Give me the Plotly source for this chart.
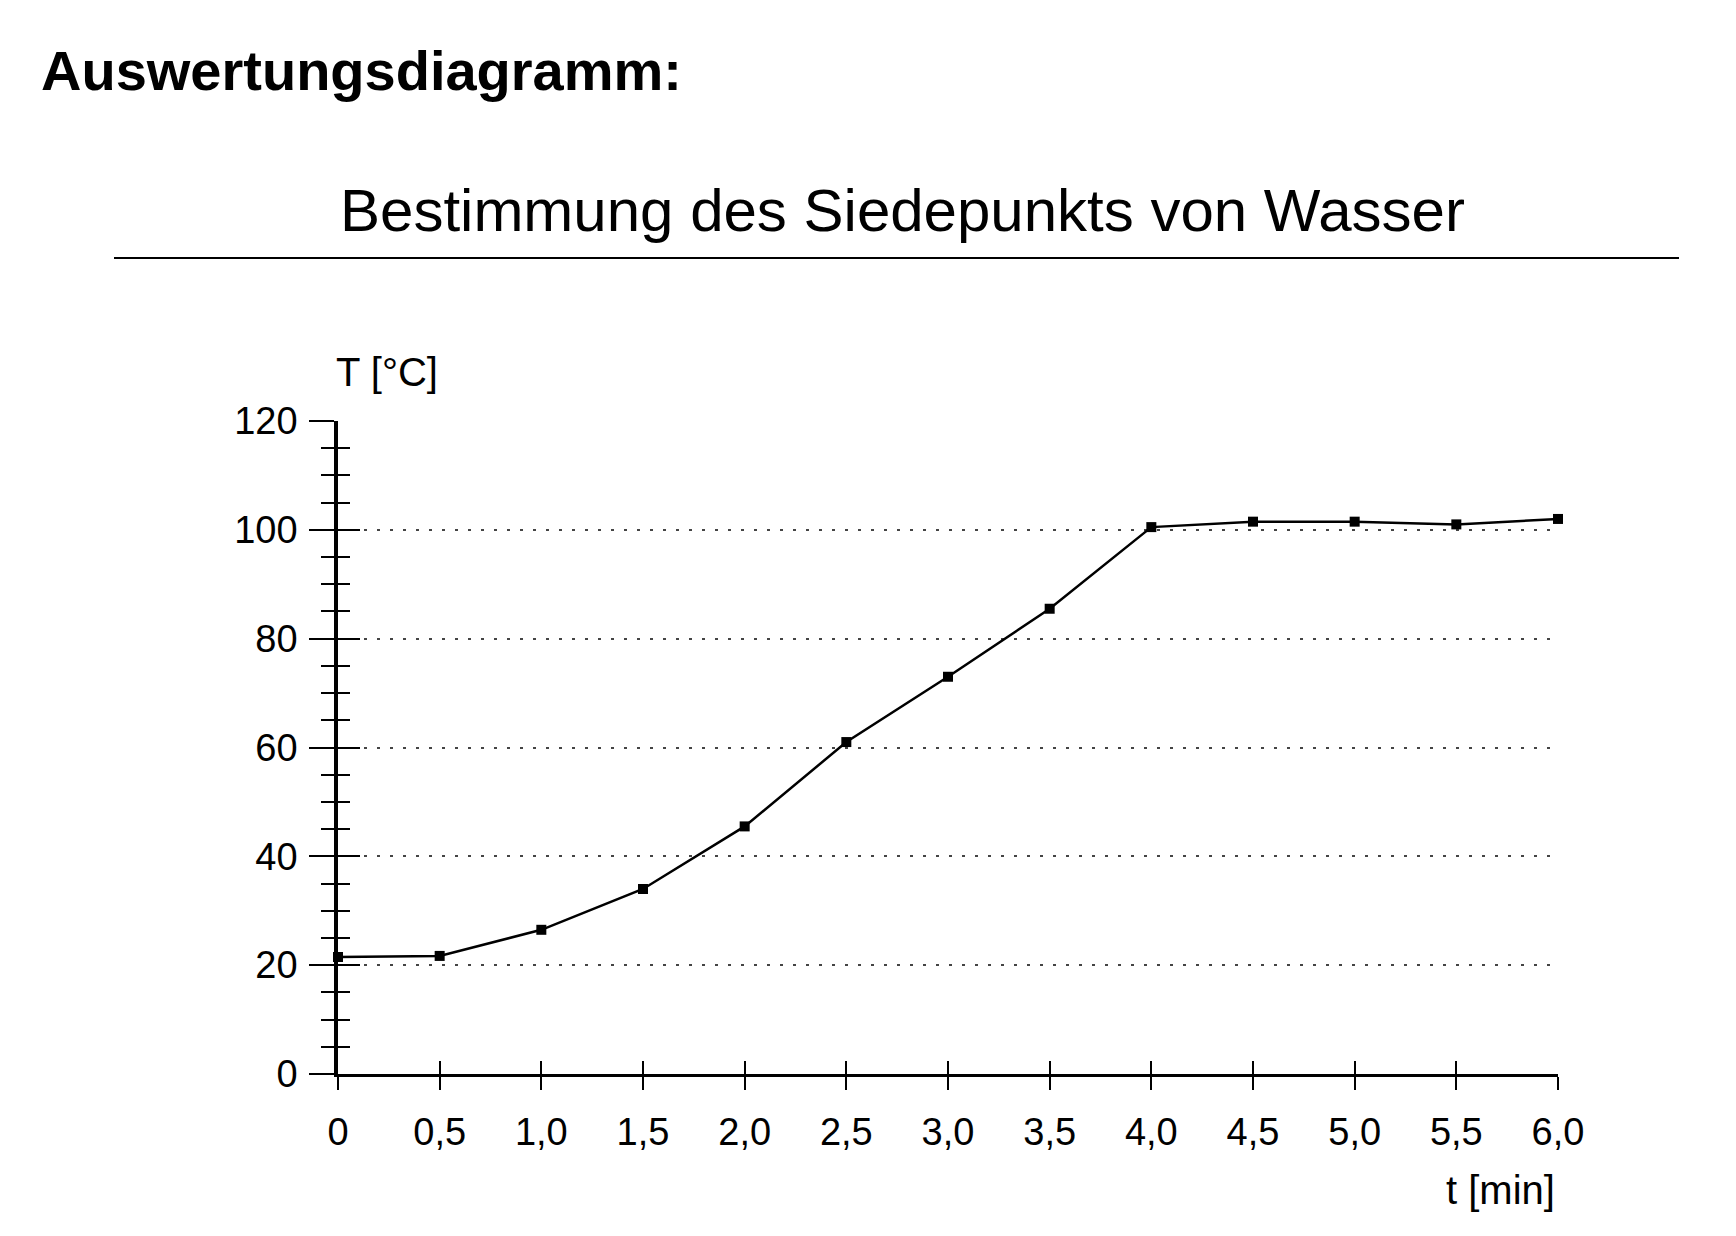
import plotly.graph_objects as go

# ---- data ----
t_min = [0, 0.5, 1.0, 1.5, 2.0, 2.5, 3.0, 3.5, 4.0, 4.5, 5.0, 5.5, 6.0]
temp_c = [21.5, 21.7, 26.5, 34.0, 45.5, 61.0, 73.0, 85.5, 100.5, 101.5, 101.5, 101.0, 102.0]
x_tickvals = [0, 0.5, 1.0, 1.5, 2.0, 2.5, 3.0, 3.5, 4.0, 4.5, 5.0, 5.5, 6.0]
x_ticktext = ["0", "0,5", "1,0", "1,5", "2,0", "2,5", "3,0", "3,5", "4,0", "4,5", "5,0", "5,5", "6,0"]
y_tickvals = [0, 20, 40, 60, 80, 100, 120]

W, H = 1736, 1236
OFF = 8  # page body margin
L, R, T, B = 338, 1558, 421, 1074  # target plot-area edges in page pixels
FONT = "Liberation Sans, Arial, sans-serif"


def px(xp):
    return (xp - L) / (R - L)


def py(yp):
    return (B - yp) / (B - T)


fig = go.Figure()
fig.add_trace(go.Scatter(
    x=t_min, y=temp_c, mode="lines+markers",
    line=dict(color="black", width=2.5),
    marker=dict(symbol="square", size=10, color="black"),
    cliponaxis=False, showlegend=False,
))
# invisible helper trace so the overlay axes (crossing ticks) are drawn
fig.add_trace(go.Scatter(
    x=t_min, y=temp_c, xaxis="x2", yaxis="y2", mode="lines",
    line=dict(width=0), opacity=0, showlegend=False, hoverinfo="skip",
))

tick_font = dict(family=FONT, size=38, color="black")

fig.update_layout(
    width=W, height=H,
    margin=dict(l=L - OFF, r=W - (R - OFF), t=T - OFF, b=H - (B - OFF)),
    paper_bgcolor="white", plot_bgcolor="white",
    font=dict(family=FONT, color="black"),
    xaxis=dict(
        range=[0, 6], tickvals=x_tickvals, ticktext=x_ticktext,
        ticks="outside", ticklen=13, tickwidth=2, tickcolor="black",
        showline=True, linecolor="black", linewidth=2.5,
        showgrid=False, zeroline=False, tickfont=tick_font,
        ticklabelstandoff=10,
    ),
    yaxis=dict(
        range=[0, 120], tickvals=y_tickvals,
        ticks="outside", ticklen=25, tickwidth=2, tickcolor="black",
        minor=dict(dtick=5, ticks="outside", ticklen=13, tickwidth=2, tickcolor="black", showgrid=False),
        showline=True, linecolor="black", linewidth=3.5,
        showgrid=True, gridcolor="#444444", gridwidth=1.5, griddash="3px,10px",
        zeroline=False, tickfont=tick_font, ticklabelstandoff=4,
    ),
    xaxis2=dict(
        range=[0, 6], overlaying="x", anchor="y2", tickvals=x_tickvals,
        ticks="inside", ticklen=13, tickwidth=2, tickcolor="black",
        showticklabels=False, showgrid=False, zeroline=False, showline=False,
    ),
    yaxis2=dict(
        range=[0, 120], overlaying="y", anchor="x2", tickvals=y_tickvals,
        ticks="inside", ticklen=22, tickwidth=2, tickcolor="black",
        minor=dict(dtick=5, ticks="inside", ticklen=12, tickwidth=2, tickcolor="black", showgrid=False),
        showticklabels=False, showgrid=False, zeroline=False, showline=False,
    ),
)

annotations = [
    dict(text="<b>Auswertungsdiagramm:</b>", x=px(39), y=py(70), xanchor="left", yanchor="middle",
         font=dict(family=FONT, size=56, color="black")),
    dict(text="Bestimmung des Siedepunkts von Wasser", x=px(338), y=py(210), xanchor="left", yanchor="middle",
         font=dict(family=FONT, size=60, color="black")),
    dict(text="T [°C]", x=px(334), y=py(372), xanchor="left", yanchor="middle",
         font=dict(family=FONT, size=40, color="black")),
    dict(text="t [min]", x=px(1557), y=py(1190), xanchor="right", yanchor="middle",
         font=dict(family=FONT, size=40, color="black")),
]
for a in annotations:
    a.update(xref="paper", yref="paper", showarrow=False)
fig.update_layout(annotations=annotations)

fig.add_shape(type="line", xref="paper", yref="paper",
              x0=px(114), x1=px(1679), y0=py(258), y1=py(258),
              line=dict(color="black", width=2))

fig.write_html("out.html")
